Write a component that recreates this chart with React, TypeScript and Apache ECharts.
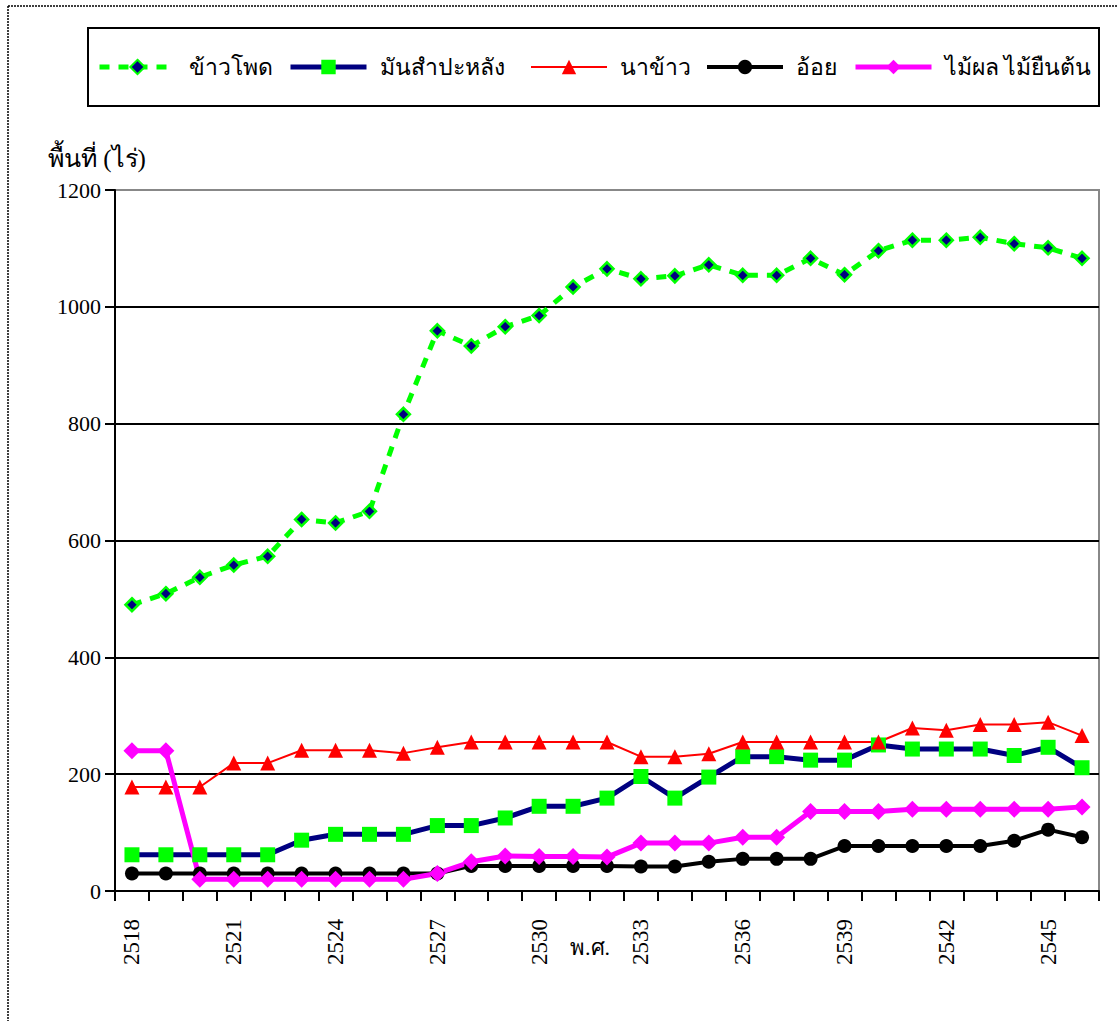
import React, { useEffect, useRef } from "react";
import * as echarts from "echarts";

const years = [
  "2518", "2519", "2520", "2521", "2522", "2523", "2524", "2525", "2526", "2527",
  "2528", "2529", "2530", "2531", "2532", "2533", "2534", "2535", "2536", "2537",
  "2538", "2539", "2540", "2541", "2542", "2543", "2544", "2545", "2546",
];
const corn = [490, 509, 537, 558, 573, 636, 630, 650, 816, 959, 933, 966, 985, 1034, 1065, 1048, 1053, 1072, 1054, 1054, 1083, 1055, 1096, 1114, 1114, 1119, 1108, 1101, 1083];
const cassava = [62, 62, 62, 62, 62, 87, 97, 97, 97, 112, 112, 125, 145, 145, 159, 196, 159, 195, 230, 230, 224, 224, 250, 243, 243, 243, 232, 246, 211];
const rice = [178, 178, 178, 219, 219, 241, 241, 241, 236, 246, 255, 255, 255, 255, 255, 230, 230, 235, 255, 255, 255, 255, 255, 279, 275, 285, 285, 289, 266];
const sugarcane = [30, 30, 30, 30, 30, 30, 30, 30, 30, 30, 43, 43, 43, 43, 43, 42, 42, 50, 55, 55, 55, 77, 77, 77, 77, 77, 86, 105, 92];
const fruit = [240, 240, 20, 20, 20, 20, 20, 20, 20, 30, 50, 60, 59, 59, 58, 82, 82, 82, 92, 92, 136, 136, 136, 140, 140, 140, 140, 140, 144];

const seriesNames = ["ข้าวโพด", "มันสำปะหลัง", "นาข้าว", "อ้อย", "ไม้ผล ไม้ยืนต้น"];
const yAxisName = "พื้นที่ (ไร่)";
const xAxisName = "พ.ศ.";

const SERIF = "'Liberation Serif', 'Times New Roman', serif";

export default function App() {
  const ref = useRef<HTMLDivElement>(null);
  useEffect(() => {
    document.body.style.margin = "0";
    const chart = echarts.init(ref.current!, null, { renderer: "svg" });
    const legendLefts = [97, 288, 530, 705, 853];
    const legendWidths = [5, 5, 2, 4, 5];
    const legendText = { fontFamily: SERIF, fontSize: 23, color: "#000", lineHeight: 30, padding: [0, 0, 0, 8] };
    chart.setOption({
      animation: false,
      backgroundColor: "#fff",
      textStyle: { fontFamily: SERIF },
      grid: { left: 115, right: 18, top: 190, bottom: 130, show: false },
      legend: seriesNames.map((n, i) => ({
        data: [n],
        left: legendLefts[i],
        top: 52,
        padding: 0,
        itemWidth: 76,
        itemHeight: 18,
        itemGap: 8,
        lineStyle: { width: legendWidths[i] },
        textStyle: legendText,
      })),
      graphic: [
        { type: "line", shape: { x1: 8, y1: 6, x2: 1117, y2: 6 }, style: { stroke: "#000", lineWidth: 1.5, lineDash: [2, 1] } },
        { type: "line", shape: { x1: 8, y1: 6, x2: 8, y2: 1021 }, style: { stroke: "#000", lineWidth: 1.5, lineDash: [2, 1] } },
        { type: "rect", shape: { x: 88, y: 28, width: 1011, height: 78 }, style: { fill: "none", stroke: "#000", lineWidth: 2 } },
        { type: "rect", shape: { x: 115, y: 190, width: 984, height: 701 }, style: { fill: "none", stroke: "#888", lineWidth: 2 }, z: 0 },
        { type: "text", left: 48, top: 146, style: { text: yAxisName, font: `25px ${SERIF}`, fill: "#000" } },
        { type: "text", left: 570, top: 936, style: { text: xAxisName, font: `22px ${SERIF}`, fill: "#000" } },
      ],
      xAxis: {
        type: "category",
        data: years,
        boundaryGap: true,
        axisLine: { lineStyle: { color: "#000", width: 2 } },
        axisTick: { show: true, interval: 0, length: 10, lineStyle: { color: "#000", width: 2 } },
        axisLabel: { interval: 2, rotate: 90, margin: 28, fontSize: 23, color: "#000", fontFamily: SERIF },
        splitLine: { show: false },
      },
      yAxis: {
        type: "value",
        min: 0,
        max: 1200,
        interval: 200,
        axisLine: { show: true, lineStyle: { color: "#000", width: 2 } },
        axisTick: { show: true, length: 10, lineStyle: { color: "#000", width: 2 } },
        axisLabel: { fontSize: 22, color: "#000", margin: 14, fontFamily: SERIF, formatter: (v: number) => String(v) },
        splitLine: { show: true, lineStyle: { color: ["#000", "#000", "#000", "#000", "#000", "#000", "#888"], width: 2 } },
      },
      series: [
        {
          name: seriesNames[0], type: "line", data: corn, symbol: "diamond", symbolSize: 13,
          lineStyle: { color: "#00FF00", width: 5, type: [10, 9] },
          itemStyle: { color: "#000080", borderColor: "#00FF00", borderWidth: 2.5 },
        },
        {
          name: seriesNames[1], type: "line", data: cassava, symbol: "rect", symbolSize: 15,
          lineStyle: { color: "#000080", width: 5 },
          itemStyle: { color: "#00FF00" },
        },
        {
          name: seriesNames[2], type: "line", data: rice, symbol: "triangle", symbolSize: 15,
          lineStyle: { color: "#FF0000", width: 2 },
          itemStyle: { color: "#FF0000" },
        },
        {
          name: seriesNames[3], type: "line", data: sugarcane, symbol: "circle", symbolSize: 14,
          lineStyle: { color: "#000000", width: 4 },
          itemStyle: { color: "#000000" },
        },
        {
          name: seriesNames[4], type: "line", data: fruit, symbol: "diamond", symbolSize: 17,
          lineStyle: { color: "#FF00FF", width: 5 },
          itemStyle: { color: "#FF00FF" },
        },
      ],
    });
    return () => chart.dispose();
  }, []);
  return <div ref={ref} style={{ width: 1117, height: 1021 }} />;
}
